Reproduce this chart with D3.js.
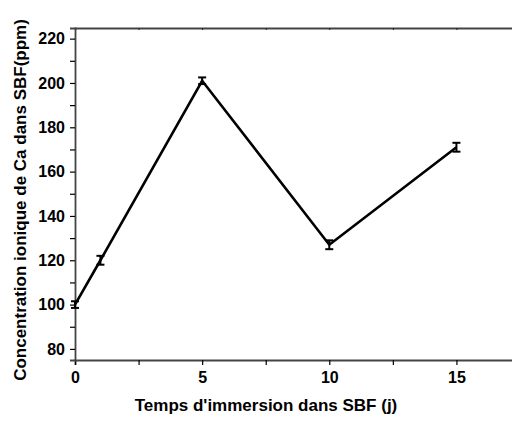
<!DOCTYPE html>
<html>
<head>
<meta charset="utf-8">
<script src="https://cdn.jsdelivr.net/npm/d3@7"></script>
<style>
  body { margin: 0; background: #fff; }
  text { font-family: "Liberation Sans", Arial, sans-serif; font-weight: bold; }
</style>
</head>
<body>
<div id="chart"></div>
<script>
// data
const days = [0, 1, 5, 10, 15]
const calcium = [100, 120, 201, 127, 171]
const errors = [1.5, 2, 1.5, 2, 2]
const xTicks = [0, 5, 10, 15]
const yTicks = [80, 100, 120, 140, 160, 180, 200, 220]

const width = 512
const height = 423
const margin = ({ top: 28, right: -8, bottom: 63, left: 75 })

const x = d3.scaleLinear()
    .domain([0, 17.5])
    .range([margin.left, width - margin.right])

const y = d3.scaleLinear()
    .domain([75, 224.8])
    .range([height - margin.bottom, margin.top])

const svg = d3.select("#chart")
    .append("svg")
    .attr("width", width)
    .attr("height", height)

const data = days.map((d, i) => ({ day: d, value: calcium[i], err: errors[i] }))

// bottom axis
svg.append("g")
    .attr("transform", `translate(0,${y(75)})`)
    .call(d3.axisBottom(x).tickValues(d3.range(0, 17.6, 2.5)).tickSize(5).tickFormat(d => xTicks.includes(d) ? d : ""))
    .call(g => g.selectAll(".tick text").attr("font-size", 16).attr("y", 23).attr("dy", 0).attr("fill", "#000"))
    .call(g => g.selectAll(".tick line").attr("stroke", "#000").attr("stroke-width", 1.2))
    .call(g => g.select(".domain").attr("stroke", "#444").attr("stroke-width", 1.8))

// top axis, ticks inward
svg.append("g")
    .attr("transform", `translate(0,${y(224.8)})`)
    .call(d3.axisBottom(x).tickValues(d3.range(0, 17.6, 2.5)).tickSize(2).tickFormat(""))
    .call(g => g.selectAll(".tick line").attr("stroke", "#222"))
    .call(g => g.select(".domain").attr("stroke", "#444").attr("stroke-width", 1.8))

// left axis
svg.append("g")
    .attr("transform", `translate(${x(0)},0)`)
    .call(d3.axisLeft(y).tickValues(d3.range(80, 221, 10)).tickSize(5).tickFormat(d => yTicks.includes(d) ? d : ""))
    .call(g => g.selectAll(".tick text").attr("font-size", 16).attr("x", -10).attr("fill", "#000"))
    .call(g => g.selectAll(".tick line").attr("stroke", "#000").attr("stroke-width", 1.2))
    .call(g => g.select(".domain").attr("stroke", "#444").attr("stroke-width", 1.8))

// line
svg.append("path")
    .datum(data)
    .attr("fill", "none")
    .attr("stroke", "#000")
    .attr("stroke-width", 2.6)
    .attr("stroke-linejoin", "miter")
    .attr("d", d3.line().x(d => x(d.day)).y(d => y(d.value)))

// error bars
const eb = svg.append("g")
    .attr("stroke", "#000")
    .attr("stroke-width", 2)
    .selectAll("g")
    .data(data)
    .join("g")

eb.append("line")
    .attr("x1", d => x(d.day)).attr("x2", d => x(d.day))
    .attr("y1", d => y(d.value - d.err)).attr("y2", d => y(d.value + d.err))

eb.selectAll(".cap")
    .data(d => [d.value - d.err, d.value + d.err].map(v => ({ day: d.day, v })))
    .join("line")
    .attr("class", "cap")
    .attr("x1", d => x(d.day) - 4).attr("x2", d => x(d.day) + 4)
    .attr("y1", d => y(d.v)).attr("y2", d => y(d.v))

// axis titles
svg.append("text")
    .attr("x", 266)
    .attr("y", 411)
    .attr("text-anchor", "middle")
    .attr("font-size", 17)
    .text("Temps d'immersion dans SBF (j)")

svg.append("text")
    .attr("transform", `translate(26,${(y(75) + y(224.8)) / 2 + 6}) rotate(-90)`)
    .attr("text-anchor", "middle")
    .attr("font-size", 17)
    .text("Concentration ionique de Ca dans SBF(ppm)")
</script>
</body>
</html>
